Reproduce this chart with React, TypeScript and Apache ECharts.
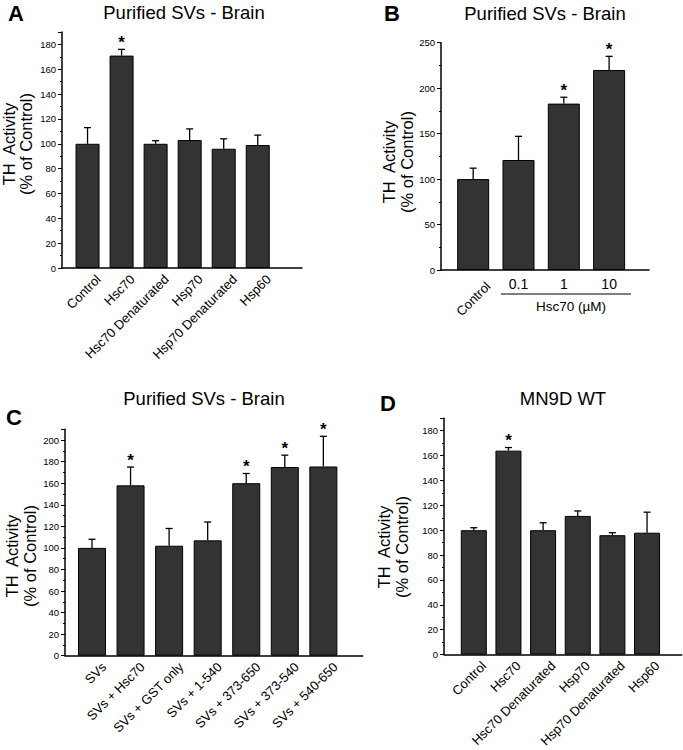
import React, { useEffect, useRef } from 'react';
import * as echarts from 'echarts';

// ---------- data ----------
const catsA = ['Control', 'Hsc70', 'Hsc70 Denaturated', 'Hsp70', 'Hsp70 Denaturated', 'Hsp60'];
const meanA = [100, 171, 100, 103, 96, 99];
const semA = [13, 5, 2.5, 9, 8, 8];
const sigA = [0, 1, 0, 0, 0, 0];

const catsB = ['Control', '0.1', '1', '10'];
const meanB = [100, 121, 183, 220];
const semB = [12, 26, 7, 15];
const sigB = [0, 0, 1, 1];

const catsC = ['SVs', 'SVs + Hsc70', 'SVs + GST only', 'SVs + 1-540', 'SVs + 373-650', 'SVs + 373-540', 'SVs + 540-650'];
const meanC = [100, 158, 102, 107, 160, 175, 175.5];
const semC = [8, 17, 16, 17, 9, 11, 28];
const sigC = [0, 1, 0, 0, 1, 1, 1];

const catsD = ['Control', 'Hsc70', 'Hsc70 Denaturated', 'Hsp70', 'Hsp70 Denaturated', 'Hsp60'];
const meanD = [100, 164, 100, 111.5, 96, 98];
const semD = [2, 2.5, 6, 4, 2, 16.5];
const sigD = [0, 1, 0, 0, 0, 0];

const titles = ['Purified SVs - Brain', 'Purified SVs - Brain', 'Purified SVs - Brain', 'MN9D WT'];
const letters = ['A', 'B', 'C', 'D'];
const yTitle1 = 'TH  Activity';
const yTitle2 = '(% of Control)';
const bUnit = 'Hsc70 (\u00b5M)';

const FONT = '"Liberation Sans", Arial, Helvetica, sans-serif';
const NARROW = '"Liberation Sans Narrow", "Arial Narrow", "Liberation Sans", Arial, sans-serif';

// ---------- layout ----------
// labelShift: rotated category label anchor offset (in axis units), labelMargin in px
const panels = [
  { cats: catsA, mean: meanA, sem: semA, sig: sigA, grid: { left: 62, top: 32, width: 240, height: 236 }, xmin: 0.25, xmax: 7.3, ymax: 190, interval: 20, barWidth: 24, labelShift: 0.32, labelMargin: 9 },
  { cats: catsB, mean: meanB, sem: semB, sig: sigB, grid: { left: 441, top: 42.7, width: 208, height: 227.3 }, xmin: 0.29, xmax: 4.88, ymax: 250, interval: 50, barWidth: 32, labelShift: 0.33, labelMargin: 14 },
  { cats: catsC, mean: meanC, sem: semC, sig: sigC, grid: { left: 65, top: 429.3, width: 297.7, height: 226.4 }, xmin: 0.3, xmax: 8.02, ymax: 210, interval: 20, barWidth: 28, labelShift: 0.31, labelMargin: 9 },
  { cats: catsD, mean: meanD, sem: semD, sig: sigD, grid: { left: 444, top: 418.3, width: 237.7, height: 238.7 }, xmin: 0.14, xmax: 7.0, ymax: 190, interval: 20, barWidth: 26, labelShift: 0.29, labelMargin: 9 },
];

const titlePos = [
  { x: 184, y: 12 }, { x: 545, y: 13 }, { x: 204, y: 398 }, { x: 563, y: 398 },
];
const letterPos = [
  { x: 16, y: 13 }, { x: 392, y: 13 }, { x: 14, y: 417 }, { x: 388, y: 403 },
];
const yTitlePos = [
  { x: 8.5, y: 144 }, { x: 389, y: 162 }, { x: 12, y: 556 }, { x: 384, y: 547 },
];

function buildOption() {
  const xAxis: any[] = [];
  const yAxis: any[] = [];
  const series: any[] = [];
  const graphic: any[] = [];

  panels.forEach((p, i) => {
    const sh = p.labelShift;
    const labelBase = {
      color: '#000',
      fontSize: 13,
      fontFamily: FONT,
      margin: p.labelMargin,
      rotate: 45,
      formatter: (v: number) => p.cats[Math.round(v - sh) - 1] ?? '',
    };
    const xBase = {
      type: 'value',
      gridIndex: i,
      position: 'bottom',
      min: p.xmin,
      max: p.xmax,
      axisLine: { show: true, onZero: false, lineStyle: { color: '#000', width: 1.5 } },
      axisTick: { show: false },
      splitLine: { show: false },
    };
    if (i === 1) {
      xAxis.push({ ...xBase, axisLabel: { ...labelBase, customValues: [1 + sh] } });
      xAxis.push({
        ...xBase,
        axisLine: { show: false },
        axisLabel: {
          ...labelBase,
          rotate: 0,
          fontSize: 14,
          margin: 7,
          formatter: (v: number) => p.cats[Math.round(v) - 1] ?? '',
          customValues: [2, 3, 4],
        },
      });
    } else {
      xAxis.push({ ...xBase, axisLabel: { ...labelBase, customValues: p.cats.map((_, k) => k + 1 + sh) } });
    }
    const xIdx = i === 0 ? 0 : i + 1;
    yAxis.push({
      type: 'value',
      gridIndex: i,
      min: 0,
      max: p.ymax,
      interval: p.interval,
      axisLine: { show: true, lineStyle: { color: '#000', width: 1.5 } },
      axisTick: { show: true, inside: false, length: 4, lineStyle: { color: '#000', width: 1 } },
      minorTick: { show: true, splitNumber: 2, length: 2, lineStyle: { color: '#000', width: 1 } },
      splitLine: { show: false },
      axisLabel: {
        color: '#000',
        fontSize: 9.5,
        fontFamily: NARROW,
        margin: 6,
        formatter: (v: number) => (v % p.interval === 0 ? String(v) : ''),
      },
    });
    series.push({
      type: 'bar',
      xAxisIndex: xIdx,
      yAxisIndex: i,
      barWidth: p.barWidth,
      itemStyle: { color: '#333333', borderColor: '#000', borderWidth: 1 },
      data: p.mean.map((v, k) => [k + 1, v]),
      z: 2,
    });
    series.push({
      type: 'custom',
      xAxisIndex: xIdx,
      yAxisIndex: i,
      z: 3,
      clip: false,
      encode: { x: 0, y: [1, 2] },
      data: p.mean.map((v, k) => [k + 1, v, v + p.sem[k], p.sig[k]]),
      renderItem: (params: any, api: any) => {
        const x = api.value(0);
        const m = api.value(1);
        const e = api.value(2);
        const s = api.value(3);
        const p0 = api.coord([x, m]);
        const p1 = api.coord([x, e]);
        const children: any[] = [
          { type: 'line', shape: { x1: p0[0], y1: p0[1], x2: p1[0], y2: p1[1] }, style: { stroke: '#000', lineWidth: 1.3 } },
          { type: 'line', shape: { x1: p1[0] - 3.5, y1: p1[1], x2: p1[0] + 3.5, y2: p1[1] }, style: { stroke: '#000', lineWidth: 1.3 } },
        ];
        if (s) {
          children.push({
            type: 'text',
            style: { text: '*', x: p1[0], y: p1[1] - 7, align: 'center', verticalAlign: 'middle', font: `bold 17px ${FONT}`, fill: '#000' },
          });
        }
        return { type: 'group', children };
      },
    });

    graphic.push({
      type: 'text',
      x: titlePos[i].x,
      y: titlePos[i].y,
      style: { text: titles[i], align: 'center', verticalAlign: 'middle', font: `18.5px ${FONT}`, fill: '#000' },
    });
    graphic.push({
      type: 'text',
      x: letterPos[i].x,
      y: letterPos[i].y,
      style: { text: letters[i], align: 'center', verticalAlign: 'middle', font: `bold 22px ${FONT}`, fill: '#000' },
    });
    graphic.push({
      type: 'text',
      x: yTitlePos[i].x,
      y: yTitlePos[i].y,
      rotation: Math.PI / 2,
      style: { text: yTitle1, align: 'center', verticalAlign: 'middle', font: `16.5px ${FONT}`, fill: '#000' },
    });
    graphic.push({
      type: 'text',
      x: yTitlePos[i].x + 17.5,
      y: yTitlePos[i].y,
      rotation: Math.PI / 2,
      style: { text: yTitle2, align: 'center', verticalAlign: 'middle', font: `16.5px ${FONT}`, fill: '#000' },
    });
  });

  // bracket under Hsc70 concentrations in panel B
  graphic.push({
    type: 'line',
    shape: { x1: 501, y1: 294, x2: 631, y2: 294 },
    style: { stroke: '#000', lineWidth: 1.2 },
  });
  graphic.push({
    type: 'text',
    x: 571,
    y: 306,
    style: { text: bUnit, align: 'center', verticalAlign: 'middle', font: `13.5px ${FONT}`, fill: '#000' },
  });

  return {
    animation: false,
    backgroundColor: '#ffffff',
    grid: panels.map((p) => ({ ...p.grid, containLabel: false })),
    xAxis,
    yAxis,
    series,
    graphic,
  };
}

export default function App() {
  const ref = useRef<HTMLDivElement>(null);
  useEffect(() => {
    if (!ref.current) return;
    const chart = echarts.init(ref.current, undefined, { renderer: 'svg' });
    chart.setOption(buildOption() as any);
    return () => chart.dispose();
  }, []);
  return <div ref={ref} style={{ position: 'absolute', left: 0, top: 0, width: 683, height: 750, background: '#fff' }} />;
}
